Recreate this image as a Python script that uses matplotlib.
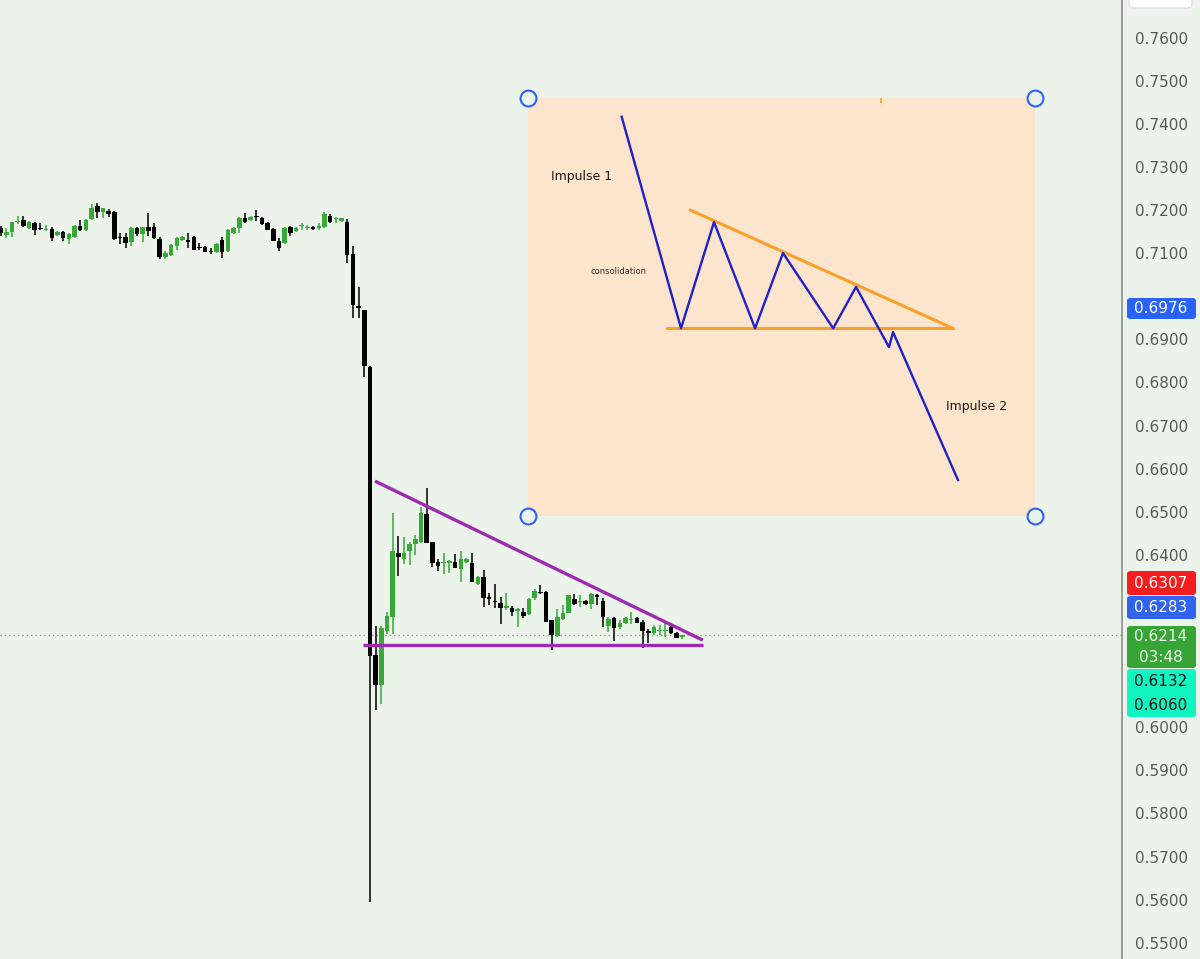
import numpy as np
import matplotlib
matplotlib.use("Agg")
import matplotlib.pyplot as plt
from matplotlib.patches import Rectangle, FancyBboxPatch

# candle data (one row per bar, oldest first)
opens = [0.7158, 0.7142, 0.7149, 0.7172, 0.7177, 0.7158, 0.7170, 0.7158, 0.7154, 0.7156,
         0.7142, 0.7149, 0.7133, 0.7137, 0.7163, 0.7154, 0.7179, 0.7209, 0.7195, 0.7198,
         0.7195, 0.7137, 0.7137, 0.7126, 0.7158, 0.7144, 0.7161, 0.7161, 0.7133, 0.7091,
         0.7096, 0.7116, 0.7130, 0.7130, 0.7137, 0.7114, 0.7114, 0.7105, 0.7103, 0.7130,
         0.7105, 0.7147, 0.7158, 0.7181, 0.7177, 0.7186, 0.7181, 0.7170, 0.7156, 0.7128,
         0.7123, 0.7161, 0.7151, 0.7163, 0.7158, 0.7161, 0.7158, 0.7161, 0.7186, 0.7179,
         0.7174, 0.7172, 0.7098, 0.6977, 0.6967, 0.6835, 0.6168, 0.6098, 0.6223, 0.6256,
         0.6404, 0.6390, 0.6409, 0.6425, 0.6430, 0.6495, 0.6430, 0.6383, 0.6381, 0.6381,
         0.6383, 0.6367, 0.6383, 0.6381, 0.6332, 0.6349, 0.6302, 0.6293, 0.6288, 0.6277,
         0.6277, 0.6270, 0.6267, 0.6263, 0.6300, 0.6314, 0.6314, 0.6249, 0.6212, 0.6251,
         0.6265, 0.6297, 0.6290, 0.6293, 0.6286, 0.6307, 0.6293, 0.6235, 0.6253, 0.6233,
         0.6242, 0.6249, 0.6253, 0.6244, 0.6223, 0.6219, 0.6223, 0.6223, 0.6233, 0.6219,
         0.6210]
highs = [0.7163, 0.7158, 0.7172, 0.7186, 0.7186, 0.7174, 0.7172, 0.7170, 0.7165, 0.7161,
         0.7151, 0.7151, 0.7147, 0.7165, 0.7177, 0.7179, 0.7214, 0.7216, 0.7205, 0.7202,
         0.7198, 0.7147, 0.7147, 0.7161, 0.7161, 0.7161, 0.7193, 0.7170, 0.7137, 0.7105,
         0.7121, 0.7137, 0.7140, 0.7147, 0.7140, 0.7123, 0.7116, 0.7112, 0.7123, 0.7137,
         0.7156, 0.7161, 0.7184, 0.7193, 0.7186, 0.7200, 0.7184, 0.7172, 0.7158, 0.7135,
         0.7161, 0.7163, 0.7161, 0.7170, 0.7165, 0.7163, 0.7170, 0.7195, 0.7191, 0.7184,
         0.7181, 0.7179, 0.7116, 0.7021, 0.6967, 0.6837, 0.6235, 0.6235, 0.6267, 0.6497,
         0.6444, 0.6441, 0.6430, 0.6446, 0.6511, 0.6555, 0.6430, 0.6390, 0.6404, 0.6388,
         0.6402, 0.6409, 0.6393, 0.6404, 0.6351, 0.6365, 0.6311, 0.6332, 0.6302, 0.6311,
         0.6281, 0.6277, 0.6277, 0.6300, 0.6321, 0.6330, 0.6316, 0.6249, 0.6274, 0.6284,
         0.6307, 0.6309, 0.6307, 0.6295, 0.6311, 0.6309, 0.6300, 0.6256, 0.6256, 0.6249,
         0.6256, 0.6267, 0.6256, 0.6249, 0.6228, 0.6237, 0.6237, 0.6244, 0.6242, 0.6221,
         0.6214]
lows = [0.7140, 0.7135, 0.7137, 0.7168, 0.7161, 0.7156, 0.7142, 0.7154, 0.7151, 0.7128,
        0.7140, 0.7128, 0.7121, 0.7135, 0.7151, 0.7151, 0.7177, 0.7181, 0.7181, 0.7184,
        0.7130, 0.7121, 0.7112, 0.7116, 0.7140, 0.7126, 0.7140, 0.7133, 0.7086, 0.7086,
        0.7093, 0.7107, 0.7128, 0.7112, 0.7107, 0.7107, 0.7103, 0.7098, 0.7100, 0.7089,
        0.7103, 0.7144, 0.7147, 0.7170, 0.7174, 0.7174, 0.7165, 0.7154, 0.7128, 0.7105,
        0.7121, 0.7140, 0.7149, 0.7154, 0.7154, 0.7154, 0.7154, 0.7158, 0.7170, 0.7170,
        0.7172, 0.7077, 0.6949, 0.6949, 0.6812, 0.5595, 0.6040, 0.6054, 0.6216, 0.6216,
        0.6351, 0.6379, 0.6376, 0.6400, 0.6427, 0.6427, 0.6372, 0.6362, 0.6355, 0.6358,
        0.6369, 0.6337, 0.6381, 0.6337, 0.6330, 0.6279, 0.6284, 0.6277, 0.6240, 0.6272,
        0.6258, 0.6233, 0.6254, 0.6260, 0.6295, 0.6309, 0.6244, 0.6179, 0.6210, 0.6249,
        0.6265, 0.6284, 0.6279, 0.6284, 0.6274, 0.6284, 0.6233, 0.6221, 0.6200, 0.6228,
        0.6240, 0.6240, 0.6242, 0.6184, 0.6196, 0.6214, 0.6214, 0.6210, 0.6216, 0.6207,
        0.6205]
closes = [0.7147, 0.7149, 0.7172, 0.7174, 0.7163, 0.7172, 0.7154, 0.7156, 0.7156, 0.7135,
          0.7149, 0.7135, 0.7144, 0.7163, 0.7154, 0.7177, 0.7205, 0.7195, 0.7205, 0.7191,
          0.7133, 0.7135, 0.7123, 0.7158, 0.7144, 0.7161, 0.7151, 0.7135, 0.7091, 0.7100,
          0.7119, 0.7135, 0.7137, 0.7126, 0.7107, 0.7112, 0.7103, 0.7103, 0.7121, 0.7103,
          0.7154, 0.7158, 0.7181, 0.7172, 0.7184, 0.7184, 0.7168, 0.7154, 0.7128, 0.7112,
          0.7158, 0.7147, 0.7158, 0.7165, 0.7161, 0.7156, 0.7163, 0.7191, 0.7172, 0.7181,
          0.7181, 0.7096, 0.6979, 0.6972, 0.6837, 0.6165, 0.6098, 0.6230, 0.6258, 0.6409,
          0.6395, 0.6404, 0.6425, 0.6437, 0.6497, 0.6427, 0.6381, 0.6374, 0.6383, 0.6386,
          0.6369, 0.6390, 0.6390, 0.6337, 0.6349, 0.6300, 0.6298, 0.6290, 0.6277, 0.6281,
          0.6267, 0.6274, 0.6258, 0.6297, 0.6316, 0.6311, 0.6244, 0.6214, 0.6256, 0.6265,
          0.6307, 0.6286, 0.6293, 0.6286, 0.6309, 0.6302, 0.6256, 0.6251, 0.6230, 0.6242,
          0.6253, 0.6251, 0.6242, 0.6223, 0.6219, 0.6233, 0.6226, 0.6226, 0.6219, 0.6207,
          0.6214]

# purple triangle drawn on the chart (bar index, price)
tri_upper_x = [65.9, 123.6]
tri_upper_y = [0.6571, 0.6202]
tri_lower_x = [63.8, 123.6]
tri_lower_y = [0.6191, 0.6191]

# pasted schematic (box in bar index / price, inner drawing in 0-100 box units)
box_x = [92.8, 182.1]
box_y = [0.6490, 0.7460]
zigzag_x = [18.5, 30.2, 36.7, 44.8, 50.3, 60.2, 64.7, 71.2, 72.0, 84.8]
zigzag_y = [95.5, 44.9, 70.3, 44.9, 62.9, 44.9, 54.8, 40.4, 44.0, 8.6]
resist_x = [32.0, 83.8]
resist_y = [73.2, 44.9]
support_x = [27.4, 83.8]
support_y = [44.9, 44.9]

# price axis
tick_prices = [0.55, 0.56, 0.57, 0.58, 0.59, 0.60, 0.64, 0.65, 0.66, 0.67,
               0.68, 0.69, 0.71, 0.72, 0.73, 0.74, 0.75, 0.76]
last_price = 0.6214

BG = "#ecf3eb"
GREEN = "#36a936"
W, H = 1200, 959


def px(x, y):
    """pixel (top-left origin) -> figure fraction"""
    return x / W, 1 - y / H


fig = plt.figure(figsize=(12, 9.59), dpi=100)
fig.patch.set_facecolor(BG)
ax = fig.add_axes([0, 0, 1122 / W, 1])
ax.set_facecolor(BG)
ax.set_xlim(-0.12, 197.4)
ax.set_ylim(0.54623, 0.76872)

for s in ["top", "left", "bottom"]:
    ax.spines[s].set_visible(False)
ax.spines["right"].set_color("#8a8f8a")
ax.spines["right"].set_linewidth(1.2)
ax.set_xticks([])
ax.yaxis.tick_right()
ax.set_yticks(tick_prices)
ax.set_yticklabels([f"{p:.4f}" for p in tick_prices])
ax.tick_params(axis="y", length=0, pad=9.5, labelsize=11, labelcolor="#555a55")

# candles
o = np.array(opens)
h = np.array(highs)
l = np.array(lows)
c = np.array(closes)
idx = np.arange(len(o))
cols = np.where(c >= o, GREEN, "#000000")
ax.vlines(idx, l, h, colors=cols, lw=1.1, zorder=3)
ax.bar(idx, np.maximum(np.abs(c - o), 0.00025), bottom=np.minimum(o, c),
       width=0.8, color=cols, linewidth=0, zorder=4)

# last price dotted line
ax.axhline(last_price, color="#6aa86a", lw=0.9, ls=(0, (1, 2.5)), zorder=2)

# triangle
ax.plot(tri_upper_x, tri_upper_y, color="#9c2bb0", lw=2.4, solid_capstyle="butt", zorder=5)
ax.plot(tri_lower_x, tri_lower_y, color="#9c2bb0", lw=2.4, solid_capstyle="butt", zorder=5)

# schematic box
ax.add_patch(Rectangle((box_x[0], box_y[0]), box_x[1] - box_x[0], box_y[1] - box_y[0],
                       facecolor="#fde4cc", edgecolor="none", zorder=6))
ins = ax.inset_axes([box_x[0], box_y[0], box_x[1] - box_x[0], box_y[1] - box_y[0]],
                    transform=ax.transData, zorder=7)
ins.set_xlim(0, 100)
ins.set_ylim(0, 100)
ins.axis("off")
ins.plot(resist_x, resist_y, color="#f7a128", lw=2.2, solid_capstyle="round")
ins.plot(support_x, support_y, color="#f7a128", lw=2.2, solid_capstyle="round")
ins.plot(zigzag_x, zigzag_y, color="#1f22c8", lw=1.7)
ins.plot([69.6, 69.6], [99.0, 100.2], color="#f7a128", lw=1.2)
ins.text(4.5, 81.1, "Impulse 1", fontsize=9, color="#1a1a1a", va="center")
ins.text(12.4, 58.4, "consolidation", fontsize=6, color="#333333", va="center")
ins.text(82.4, 26.3, "Impulse 2", fontsize=9, color="#1a1a1a", va="center")

corner_x = [box_x[0], box_x[1], box_x[0], box_x[1]]
corner_y = [box_y[1], box_y[1], box_y[0], box_y[0]]
ax.scatter(corner_x, corner_y, s=130, facecolors=BG, edgecolors="#2962ff",
           linewidths=1.5, zorder=8, clip_on=False)


# price tags on the axis
def tag(y0, y1, color, lines, tcolor):
    x0, yb = px(1127, y1)
    w = 69 / W
    hgt = (y1 - y0) / H
    fig.patches.append(FancyBboxPatch((x0, yb), w, hgt, boxstyle="round,pad=0,rounding_size=0.003",
                                      transform=fig.transFigure, facecolor=color,
                                      edgecolor="none", zorder=10))
    n = len(lines)
    for k, txt in enumerate(lines):
        yy = y0 + (y1 - y0) * (k + 0.5) / n
        fig.text(1161 / W, 1 - yy / H, txt, color=tcolor, fontsize=11,
                 ha="center", va="center", zorder=11)


# white box at top of the price scale
fig.patches.append(FancyBboxPatch(px(1129, 8), 63 / W, 14 / H,
                                  boxstyle="round,pad=0,rounding_size=0.004",
                                  transform=fig.transFigure, facecolor="white",
                                  edgecolor="#dde2dd", zorder=10))

tag(298, 319, "#2962ff", ["0.6976"], "white")
tag(571, 595, "#f51d1d", ["0.6307"], "white")
tag(596, 619, "#2f63f0", ["0.6283"], "white")
tag(626, 668, "#36a536", ["0.6214", "03:48"], "#eef8ee")
tag(669, 717, "#10f5c0", ["0.6132", "0.6060"], "#111111")

fig.savefig("out.png", dpi=100, facecolor=BG)
